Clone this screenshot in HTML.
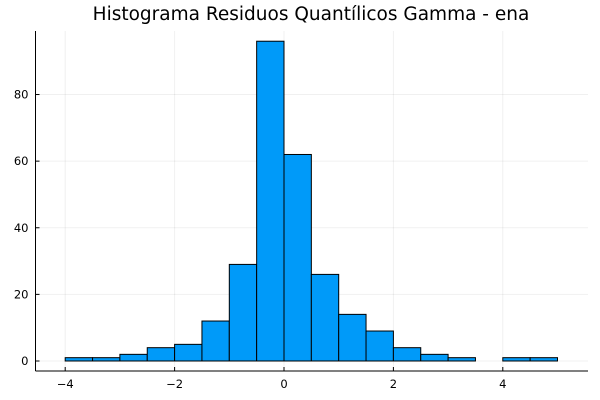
<!DOCTYPE html>
<html><head><meta charset="utf-8"><style>
body{margin:0;background:#fff;}
svg{display:block;font-family:"DejaVu Sans","Liberation Sans",sans-serif;}
</style></head><body>
<svg id="chart" width="600" height="400">
<text x="311" y="20" font-size="18.5" text-anchor="middle" fill="#000">Histograma Residuos Quantílicos Gamma - ena</text>
<g id="grid"></g>
<g id="bars"></g>
<g id="axes"></g>
</svg>
<script>
const binEdges = [-4,-3.5,-3,-2.5,-2,-1.5,-1,-0.5,0,0.5,1,1.5,2,2.5,3,3.5,4,4.5,5];
const counts = [1,1,2,4,5,12,29,96,62,26,14,9,4,2,1,0,1,1];
const xTicks = [-4,-2,0,2,4];
const yTicks = [0,20,40,60,80];
const NS="http://www.w3.org/2000/svg";
const L=35.5,R=588,T=31,B=371;
const xs=v=>284+v*54.7;
const ys=v=>361-v*3.331;
function mk(tag,attrs,parent){const e=document.createElementNS(NS,tag);for(const k in attrs)e.setAttribute(k,attrs[k]);parent.appendChild(e);return e;}
const grid=document.getElementById('grid'),bars=document.getElementById('bars'),axes=document.getElementById('axes');
xTicks.forEach(t=>{
  const g=mk('line',{x1:xs(t),x2:xs(t),y1:T,y2:B,stroke:'#000','stroke-opacity':0.06},grid);
  
  
});
yTicks.forEach(t=>{
  const g=mk('line',{x1:L,x2:R,y1:ys(t),y2:ys(t),stroke:'#000','stroke-opacity':0.06},grid);
  
  
});
counts.forEach((c,i)=>{
  const x0=xs(binEdges[i]),x1=xs(binEdges[i+1]);
  const r=mk('rect',{x:x0,y:ys(c),width:x1-x0,height:ys(0)-ys(c),fill:'#009af9',stroke:'#000','stroke-width':1},bars);
  
  
});
const ya=mk('line',{x1:L,x2:L,y1:T,y2:B,stroke:'#000','stroke-width':1},axes);


const xa=mk('line',{x1:L,x2:R,y1:B,y2:B,stroke:'#000','stroke-width':1},axes);


xTicks.forEach(t=>{
  mk('line',{x1:xs(t),x2:xs(t),y1:B,y2:B-4,stroke:'#000'},axes);
  const tx=mk('text',{x:xs(t),y:B+17,'font-size':11.5,'text-anchor':'middle'},axes);
  tx.textContent=(t<0?'\u2212'+(-t):String(t));
  
  
});
yTicks.forEach(t=>{
  mk('line',{x1:L,x2:L+4,y1:ys(t),y2:ys(t),stroke:'#000'},axes);
  const tx=mk('text',{x:L-7,y:ys(t)+4,'font-size':11.5,'text-anchor':'end'},axes);
  tx.textContent=String(t);
  
  
});
</script>
</body></html>
